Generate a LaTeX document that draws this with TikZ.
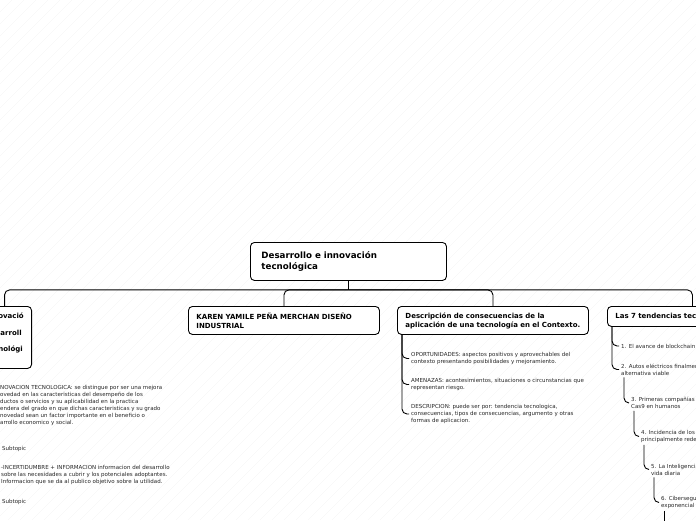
\documentclass[tikz,border=0pt]{standalone}
\usepackage{fontspec}
\setmainfont{DejaVu Sans}
\usetikzlibrary{positioning,calc}

\tikzset{
  topic/.style={draw, rounded corners=4pt, line width=0.9pt, fill=white, align=left, inner xsep=8pt, inner ysep=2pt, font=\bfseries\fontsize{7}{9}\selectfont},
  subtopic/.style={align=left, inner sep=2pt, text=black!85, font=\fontsize{5.5}{7}\selectfont},
  branch/.style={line width=0.9pt, rounded corners=5pt}
}

\begin{document}
\begin{tikzpicture}[x=1pt,y=-1pt]
\useasboundingbox (0,0) rectangle (696,520);
\clip (0,0) rectangle (696,520);
% faint hatching of the canvas
\foreach \i in {-520,-508,...,700}
  \draw[black!6, line width=0.3pt] (\i,520) -- ++(520,-520);

% central topic
\node[topic, inner xsep=11pt, text width=174pt, minimum height=38pt, anchor=north west, font=\bfseries\fontsize{8.7}{11}\selectfont] (root) at (250,242) {Desarrollo e innovación\\tecnológica};
\coordinate (hub) at ([yshift=-9pt]root.south);

% main topics
\node[topic, minimum width=54pt, minimum height=62pt, anchor=north east] (innov) at (32,306) {};
\node[align=left, inner sep=0pt, text width=39pt, anchor=west, font=\bfseries\fontsize{7}{16.5}\selectfont] (innovlbl) at (-14.5,333) {Innovació\\Desarroll\\Tecnológi};
\node[topic, text width=175pt, minimum height=28pt, anchor=north west] (karen) at (188,306) {KAREN YAMILE PEÑA MERCHAN DISEÑO\\INDUSTRIAL};
\node[topic, text width=175pt, minimum height=28pt, anchor=north west] (desc) at (397,306) {Descripción de consecuencias de la\\aplicación de una tecnología en el Contexto.};
\node[topic, text width=154pt, minimum height=20pt, anchor=north west] (tend) at (607,306) {Las 7 tendencias tecnológicas};

\draw[branch] (root.south) -- (hub);
\foreach \c in {innov,karen,desc,tend}
  \draw[branch] (hub) -| (\c.north);

% left subtopics
\node[subtopic, anchor=west, inner xsep=0pt] (inno) at (0,405.5) {NOVACION TECNOLOGICA: se distingue por ser una mejora\\ovedad en las caracteristicas del desempeño de los\\ductos o servicios y su aplicabilidad en la practica\\endera del grado en que dichas caracteristicas y su grado\\novedad sean un factor importante en el beneficio o\\arrollo economico y social.};
\node[subtopic, anchor=west] (sub1) at (0,449) {Subtopic};
\node[subtopic, anchor=west, inner xsep=1pt] (incert) at (0,475) {-INCERTIDUMBRE + INFORMACION informacion del desarrollo\\sobre las necesidades a cubrir y los potenciales adoptantes.\\Informacion que se da al publico objetivo sobre la utilidad.};
\node[subtopic, anchor=west] (sub2) at (0,502) {Subtopic};

% consecuencias
\node[subtopic, anchor=west] (opor) at (409,358.5) {OPORTUNIDADES: aspectos positivos y aprovechables del\\contexto presentando posibilidades y mejoramiento.};
\node[subtopic, anchor=west] (amen) at (409,384.5) {AMENAZAS: acontesimientos, situaciones o circunstancias que\\representan riesgo.};
\node[subtopic, anchor=west] (descr) at (409,414) {DESCRIPCION: puede ser por: tendencia tecnologica,\\consecuencias, tipos de consecuencias, argumento y otras\\formas de aplicacion.};
\foreach \c in {opor,amen,descr}
  \draw[branch] ([xshift=5pt]desc.south west) |- (\c.west);

% tendencias
\node[subtopic, anchor=west] (t1) at (619,346) {1. El avance de blockchain};
\node[subtopic, anchor=west] (t2) at (619,369.5) {2. Autos eléctricos finalmente\\alternativa viable};
\node[subtopic, anchor=west] (t3) at (629,403) {3. Primeras compañías\\Cas9 en humanos};
\node[subtopic, anchor=west] (t4) at (639,436.5) {4. Incidencia de los\\principalmente redes};
\node[subtopic, anchor=west] (t5) at (649,469.5) {5. La Inteligencia\\vida diaria};
\node[subtopic, anchor=west] (t6) at (659,502.5) {6. Ciberseguridad\\exponencial};
\coordinate (t7) at (664,530);

\draw[branch] ([xshift=5pt]tend.south west) |- (t1.west);
\draw[branch] ([xshift=5pt]tend.south west) |- (t2.west);
\draw[branch] ([xshift=5pt]t2.south west) |- (t3.west);
\draw[branch] ([xshift=5pt]t3.south west) |- (t4.west);
\draw[branch] ([xshift=5pt]t4.south west) |- (t5.west);
\draw[branch] ([xshift=5pt]t5.south west) |- (t6.west);
\draw[branch] ([xshift=5pt]t6.south west) -- (t7);
\end{tikzpicture}
\end{document}
